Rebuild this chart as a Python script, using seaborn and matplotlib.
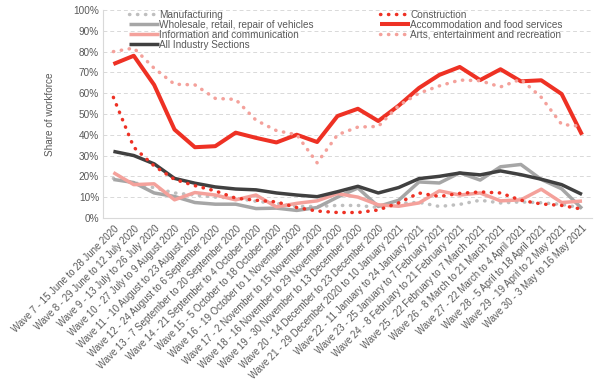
import matplotlib
matplotlib.use("Agg")
import matplotlib.pyplot as plt
import numpy as np
import seaborn as sns
from matplotlib.ticker import FuncFormatter

# ── Data (share of workforce, %) ─────────────────────────────────────────────
waves = [
    "Wave 7 - 15 June to 28 June 2020",
    "Wave 8 - 29 June to 12 July 2020",
    "Wave 9 - 13 July to 26 July 2020",
    "Wave 10 - 27 July to 9 August 2020",
    "Wave 11 - 10 August to 23 August 2020",
    "Wave 12 - 24 August to 6 September 2020",
    "Wave 13 - 7 September to 20 September 2020",
    "Wave 14 - 21 September to 4 October 2020",
    "Wave 15 - 5 October to 18 October 2020",
    "Wave 16 - 19 October to 1 November 2020",
    "Wave 17 - 2 November to 15 November 2020",
    "Wave 18 - 16 November to 29 November 2020",
    "Wave 19 - 30 November to 13 December 2020",
    "Wave 20 - 14 December to 23 December 2020",
    "Wave 21 - 29 December 2020 to 10 January 2021",
    "Wave 22 - 11 January to 24 January 2021",
    "Wave 23 - 25 January to 7 February 2021",
    "Wave 24 - 8 February to 21 February 2021",
    "Wave 25 - 22 February to 7 March 2021",
    "Wave 26 - 8 March to 21 March 2021",
    "Wave 27 - 22 March to 4 April 2021",
    "Wave 28 - 5 April to 18 April 2021",
    "Wave 29 - 19 April to 2 May 2021",
    "Wave 30 - 3 May to 16 May 2021",
]

manufacturing = [19, 17, 14.5, 12, 11, 10, 9.5, 8, 7, 5.5, 5.5, 6, 6, 5,
                 7, 7.5, 5.5, 6.5, 8.5, 7.2, 7.7, 7.3, 6.5, 4.8]
wholesale = [18.5, 17, 12, 10.3, 7.4, 6.6, 6.6, 4.5, 4.7, 3.6, 5, 10, 14.4, 5.5,
             8.5, 17.3, 16.8, 21.7, 18.2, 24.6, 25.7, 18.5, 14, 4.5]
information = [21.8, 16, 16.4, 8.7, 12.2, 11, 8.7, 11, 5.3, 7, 8.2, 11.7, 10, 6.3,
               5.6, 7.2, 13, 11, 12, 8.2, 8.7, 13.8, 7.4, 8.1]
all_industry = [32, 30, 26, 19, 16.7, 14.9, 13.9, 13.5, 12, 11, 10.2, 12.6, 15.2, 12,
                14.6, 18.9, 20, 21.6, 20.7, 22.6, 20.8, 18.6, 16, 11.3]
construction = [58, 34, 25, 18.5, 15.5, 13, 9.5, 8.5, 7.7, 5, 3.3, 2.6, 2.6, 3.8,
                7.2, 12, 10.3, 11.8, 12.5, 12, 8.5, 6.7, 6, 4.2]
accommodation = [74, 78, 64, 42.5, 34, 34.5, 41, 38.5, 36.3, 40, 36.5, 49, 52.5, 46.6,
                 54, 62.5, 68.8, 72.6, 66.3, 71.5, 65.7, 66.2, 59.6, 40]
arts = [80, 81.7, 72, 64.3, 64, 57.5, 57, 47, 42, 40, 26.5, 40, 43.7, 44,
        54, 60, 63.5, 66.3, 66, 63, 66.7, 58, 45, 44]

DOT = (0, (0.1, 2.2))

# name, values, color, linewidth, linestyle  (order = legend order)
SERIES = [
    ("Manufacturing", manufacturing, "#BFBFBF", 2.5, DOT),
    ("Wholesale, retail, repair of vehicles", wholesale, "#A6A6A6", 2.5, "-"),
    ("Information and communication", information, "#F4A19B", 2.5, "-"),
    ("All Industry Sections", all_industry, "#404040", 2.5, "-"),
    ("Construction", construction, "#EE3124", 2.5, DOT),
    ("Accommodation and food services", accommodation, "#EE3124", 2.9, "-"),
    ("Arts, entertainment and recreation", arts, "#F4A19B", 2.5, DOT),
]

TEXT = "#595959"

sns.set_theme(style="white")
plt.rcParams["font.family"] = ["Liberation Sans", "DejaVu Sans"]

fig = plt.figure(figsize=(6, 3.85), dpi=100)
ax = fig.add_axes([0.172, 0.434, 0.815, 0.54])

x = np.arange(len(waves))
for name, vals, color, lw, ls in SERIES:
    sns.lineplot(x=x, y=vals, ax=ax, color=color, linewidth=lw, linestyle=ls,
                 dash_capstyle="round", solid_capstyle="butt", label=name)

# ── Axes styling ─────────────────────────────────────────────────────────────
ax.set_xlim(-0.5, len(waves) - 0.5)
ax.set_ylim(0, 100)
ax.set_yticks(range(0, 101, 10))
ax.yaxis.set_major_formatter(FuncFormatter(lambda v, _: f"{v:.0f}%"))
ax.set_xticks(x)
ax.set_xticklabels(waves, rotation=45, ha="right", rotation_mode="anchor")
ax.tick_params(axis="both", length=0, colors=TEXT)
ax.tick_params(axis="x", pad=4, labelsize=6.9)
ax.tick_params(axis="y", pad=3, labelsize=7.2)
ax.set_ylabel("Share of workforce", fontsize=7.2, color=TEXT, labelpad=13)
ax.set_xlabel("")

ax.grid(axis="y", color="#D9D9D9", linestyle=(0, (4, 3)), linewidth=0.7)
ax.grid(axis="x", visible=False)
for side in ("top", "right"):
    ax.spines[side].set_visible(False)
for side in ("left", "bottom"):
    ax.spines[side].set_color("#D9D9D9")
    ax.spines[side].set_linewidth(0.8)

leg = ax.legend(ncol=2, loc="upper left", bbox_to_anchor=(0.04, 1.03),
                frameon=False, fontsize=7.2, labelspacing=0.0, handlelength=3.0,
                handletextpad=0.05, columnspacing=6.6, borderpad=0.1)
for t in leg.get_texts():
    t.set_color(TEXT)

plt.savefig("out.png", dpi=100)
plt.close()
